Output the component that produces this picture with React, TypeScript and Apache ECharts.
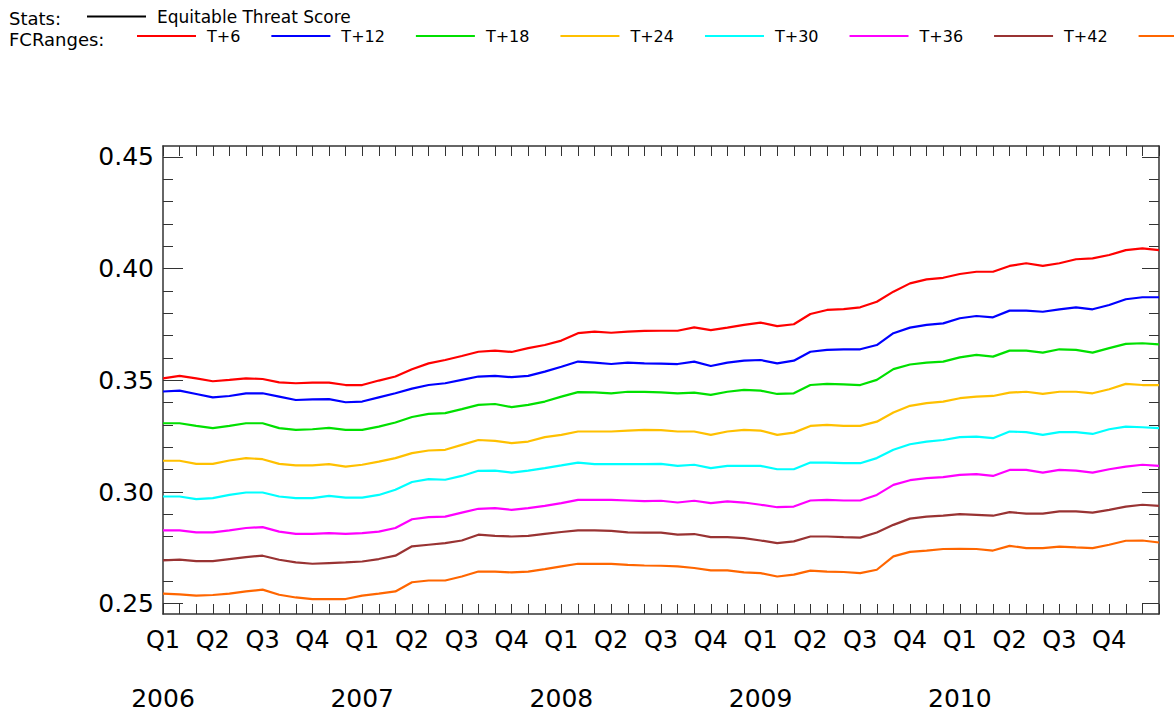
import React, { useEffect, useRef } from "react";
import * as echarts from "echarts";

// ---- categories (months, Jan 2006 .. Jan 2011) ----
const years = ["2006", "2007", "2008", "2009", "2010"];
const quarters = ["Q1", "Q2", "Q3", "Q4"];
const monthsInQuarter = ["m1", "m2", "m3"];
const endCategory = "2011|Q1|m1";

// ---- y axis ticks ----
const yMajorTicks = [0.25, 0.3, 0.35, 0.4, 0.45];
const yMinorTicks = [
  0.26, 0.27, 0.28, 0.29, 0.31, 0.32, 0.33, 0.34, 0.36, 0.37, 0.38, 0.39, 0.41,
  0.42, 0.43, 0.44,
];

// ---- legend ----
const statsName = "Equitable Threat Score";
const rangeNames = ["T+6", "T+12", "T+18", "T+24", "T+30", "T+36", "T+42", "T+48"];
const rangeColors = [
  "#ff0000",
  "#0000ff",
  "#00e000",
  "#ffc000",
  "#00ffff",
  "#ff00ff",
  "#993333",
  "#ff6600",
];

// ---- series values (monthly) ----
const t6 = [
  0.3509, 0.352, 0.3509, 0.3496, 0.3502, 0.3509, 0.3506, 0.3491, 0.3487, 0.349, 0.349, 0.3479,
  0.3479, 0.3499, 0.3517, 0.355, 0.3576, 0.3591, 0.3609, 0.3628, 0.3633, 0.3627, 0.3644, 0.3658,
  0.3678, 0.3711, 0.3718, 0.3713, 0.3718, 0.3721, 0.3722, 0.3722, 0.3737, 0.3725, 0.3736, 0.3748,
  0.3758, 0.3743, 0.3751, 0.3797, 0.3815, 0.3819, 0.3827, 0.3852, 0.3897, 0.3934, 0.3952, 0.3959,
  0.3976, 0.3986, 0.3986, 0.4012, 0.4024, 0.4012, 0.4024, 0.4042, 0.4046, 0.4061, 0.4083, 0.4091,
  0.4083,
];
const t12 = [
  0.345, 0.3454, 0.3439, 0.3424, 0.343, 0.3442, 0.3442, 0.3427, 0.3412, 0.3415, 0.3416, 0.3402,
  0.3405, 0.3424, 0.3442, 0.3463, 0.3479, 0.3487, 0.3502, 0.3517, 0.352, 0.3514, 0.352, 0.3539,
  0.3561, 0.3584, 0.3579, 0.3573, 0.3579, 0.3576, 0.3575, 0.3573, 0.3584, 0.3564, 0.3579, 0.3588,
  0.3591, 0.3576, 0.3588, 0.3628, 0.3636, 0.3639, 0.3639, 0.3658, 0.3711, 0.3736, 0.3748, 0.3755,
  0.3778, 0.3788, 0.3782, 0.3812, 0.3812, 0.3807, 0.3818, 0.3827, 0.3818, 0.3837, 0.3863, 0.3872,
  0.3872,
];
const t18 = [
  0.3308, 0.3308, 0.3296, 0.3286, 0.3296, 0.3308, 0.3308, 0.3286, 0.3278, 0.3281, 0.3287, 0.3278,
  0.3278, 0.3293, 0.3311, 0.3336, 0.335, 0.3353, 0.3371, 0.339, 0.3394, 0.338, 0.339, 0.3405,
  0.3427, 0.3447, 0.3446, 0.3442, 0.3449, 0.3448, 0.3446, 0.3442, 0.3445, 0.3435, 0.3449, 0.3457,
  0.3454, 0.3439, 0.3442, 0.3479, 0.3484, 0.3482, 0.3479, 0.3502, 0.355, 0.3571, 0.3579, 0.3584,
  0.3603, 0.3614, 0.3606, 0.3633, 0.3633, 0.3624, 0.3639, 0.3636, 0.3624, 0.3644, 0.3663, 0.3666,
  0.3661,
];
const t24 = [
  0.314, 0.314, 0.3126, 0.3126, 0.3141, 0.3152, 0.3147, 0.3126, 0.3119, 0.3119, 0.3125, 0.3114,
  0.3122, 0.3136, 0.3152, 0.3174, 0.3186, 0.3189, 0.3211, 0.3233, 0.3229, 0.3219, 0.3226, 0.3246,
  0.3256, 0.3271, 0.3271, 0.3271, 0.3275, 0.3278, 0.3277, 0.3271, 0.3271, 0.3256, 0.3271, 0.3278,
  0.3275, 0.3256, 0.3266, 0.3296, 0.3301, 0.3296, 0.3296, 0.3315, 0.3356, 0.3386, 0.3398, 0.3405,
  0.342, 0.3427, 0.343, 0.3445, 0.3449, 0.3439, 0.3449, 0.3449, 0.3442, 0.346, 0.3484, 0.3479,
  0.3479,
];
const t30 = [
  0.298, 0.298, 0.2968, 0.2973, 0.2987, 0.2998, 0.2998, 0.298, 0.2973, 0.2973, 0.2983, 0.2975,
  0.2975, 0.2987, 0.301, 0.3045, 0.3058, 0.3055, 0.3072, 0.3095, 0.3096, 0.3087, 0.3096, 0.3107,
  0.3119, 0.3132, 0.3125, 0.3125, 0.3125, 0.3125, 0.3126, 0.3117, 0.3122, 0.3107, 0.3117, 0.3117,
  0.3117, 0.3102, 0.3102, 0.3132, 0.3132, 0.3129, 0.3129, 0.3152, 0.3189, 0.3214, 0.3226, 0.3233,
  0.3246, 0.3248, 0.3241, 0.3271, 0.3268, 0.3256, 0.3268, 0.3268, 0.326, 0.3281, 0.3293, 0.329,
  0.3286,
];
const t36 = [
  0.2828, 0.2828, 0.2819, 0.2819, 0.2828, 0.2839, 0.2843, 0.2823, 0.2813, 0.2813, 0.2816, 0.2813,
  0.2816, 0.2823, 0.2839, 0.2878, 0.2888, 0.289, 0.2908, 0.2925, 0.2928, 0.292, 0.2928, 0.2938,
  0.295, 0.2965, 0.2965, 0.2965, 0.2962, 0.2959, 0.2961, 0.2953, 0.2961, 0.295, 0.2958, 0.2953,
  0.2943, 0.2932, 0.2935, 0.2962, 0.2965, 0.2962, 0.2962, 0.2987, 0.3032, 0.3053, 0.3062, 0.3067,
  0.3077, 0.308, 0.3072, 0.3099, 0.3099, 0.3087, 0.3099, 0.3096, 0.3087, 0.3102, 0.3114, 0.3122,
  0.3117,
];
const t42 = [
  0.2694, 0.2697, 0.2691, 0.2691, 0.27, 0.2709, 0.2715, 0.2697, 0.2685, 0.2679, 0.2682, 0.2685,
  0.2689, 0.27, 0.2715, 0.2757, 0.2764, 0.2771, 0.2783, 0.2809, 0.2804, 0.2801, 0.2804, 0.2813,
  0.2821, 0.2828, 0.2828, 0.2826, 0.2819, 0.2818, 0.2818, 0.2809, 0.2812, 0.2798, 0.2798, 0.2794,
  0.2783, 0.2771, 0.2779, 0.2801, 0.2801, 0.2798, 0.2796, 0.2819, 0.2853, 0.2881, 0.289, 0.2894,
  0.2901, 0.2898, 0.2894, 0.291, 0.2903, 0.2903, 0.2913, 0.2913, 0.2908, 0.292, 0.2935, 0.2943,
  0.2938,
];
const t48 = [
  0.2545, 0.2542, 0.2536, 0.2539, 0.2545, 0.2555, 0.2563, 0.254, 0.2528, 0.2521, 0.2521, 0.2521,
  0.2536, 0.2545, 0.2555, 0.2596, 0.2604, 0.2604, 0.2622, 0.2644, 0.2644, 0.264, 0.2644, 0.2655,
  0.2667, 0.2679, 0.2678, 0.2678, 0.2674, 0.2671, 0.267, 0.2667, 0.266, 0.2649, 0.2649, 0.264,
  0.2637, 0.2622, 0.263, 0.2648, 0.2644, 0.2642, 0.2637, 0.2652, 0.2712, 0.2732, 0.2738, 0.2745,
  0.2746, 0.2745, 0.2738, 0.2759, 0.2749, 0.2749, 0.2756, 0.2752, 0.2749, 0.2764, 0.2782, 0.2783,
  0.2774,
];
const rangeValues = [t6, t12, t18, t24, t30, t36, t42, t48];

const categories: string[] = [];
years.forEach((y) =>
  quarters.forEach((q) => monthsInQuarter.forEach((m) => categories.push(`${y}|${q}|${m}`)))
);
categories.push(endCategory);

const AXIS_COLOR = "#333";
const LABEL_FONT = "'DejaVu Sans', sans-serif";
const LEGEND_FONT = "'DejaVu Sans', sans-serif";

export default function App() {
  const ref = useRef<HTMLDivElement>(null);

  useEffect(() => {
    document.body.style.margin = "0";
    if (!ref.current) return;
    const chart = echarts.init(ref.current, null, { renderer: "svg" });

    const quarterLabel = (val: string, idx: number) => {
      const [, q, m] = val.split("|");
      if (idx >= categories.length - 1) return "";
      return m === "m1" ? q : "";
    };
    const yearLabel = (val: string, idx: number) => {
      const [y, q, m] = val.split("|");
      if (idx >= categories.length - 1) return "";
      return q === "Q1" && m === "m1" ? y : "";
    };

    const yMin = 0.2454;
    const yMax = 0.4549;

    const yAxisBase = {
      type: "value" as const,
      min: yMin,
      max: yMax,
      splitLine: { show: false },
    };

    const option: any = {
      animation: false,
      backgroundColor: "#ffffff",
      grid: {
        left: 163,
        right: 15,
        top: 146,
        bottom: 100,
        containLabel: false,
        outerBoundsMode: "none",
      },
      graphic: [
        {
          type: "text",
          left: 9,
          top: 9,
          style: {
            text: "Stats:",
            font: `18px ${LEGEND_FONT}`,
            fill: "#000",
          },
        },
        {
          type: "text",
          left: 9,
          top: 30,
          style: {
            text: "FCRanges:",
            font: `18px ${LEGEND_FONT}`,
            fill: "#000",
          },
        },
      ],
      legend: [
        {
          data: [statsName],
          left: 87,
          top: 8,
          padding: 0,
          icon: "rect",
          itemWidth: 59,
          itemHeight: 2,
          textStyle: {
            fontFamily: LEGEND_FONT,
            fontSize: 17,
            color: "#000",
            padding: [0, 0, 8, 6],
          },
        },
        {
          data: rangeNames,
          left: 137,
          top: 28,
          width: 3000,
          padding: 0,
          icon: "rect",
          itemWidth: 59,
          itemHeight: 2,
          itemGap: 31,
          textStyle: {
            fontFamily: LEGEND_FONT,
            fontSize: 16,
            color: "#000",
            padding: [0, 0, 8, 6],
          },
        },
      ],
      xAxis: [
        {
          type: "category",
          data: categories,
          boundaryGap: false,
          position: "bottom",
          axisLine: { show: true, lineStyle: { color: AXIS_COLOR, width: 1.5 } },
          axisTick: {
            show: true,
            inside: true,
            length: 10,
            interval: 0,
            lineStyle: { color: AXIS_COLOR, width: 1 },
          },
          axisLabel: {
            interval: 0,
            formatter: quarterLabel,
            margin: 14,
            fontFamily: LABEL_FONT,
            fontSize: 24,
            color: "#000",
          },
          splitLine: { show: false },
        },
        {
          type: "category",
          data: categories,
          boundaryGap: false,
          position: "bottom",
          axisLine: { show: false },
          axisTick: { show: false },
          axisLabel: {
            interval: 0,
            formatter: yearLabel,
            margin: 72,
            fontFamily: LABEL_FONT,
            fontSize: 25,
            color: "#000",
          },
          splitLine: { show: false },
        },
        {
          type: "category",
          data: categories,
          boundaryGap: false,
          position: "top",
          axisLine: { show: true, lineStyle: { color: AXIS_COLOR, width: 1.5 } },
          axisTick: {
            show: true,
            inside: true,
            length: 10,
            interval: 0,
            lineStyle: { color: AXIS_COLOR, width: 1 },
          },
          axisLabel: { show: false },
          splitLine: { show: false },
        },
      ],
      yAxis: [
        {
          ...yAxisBase,
          position: "left",
          axisLine: { show: true, lineStyle: { color: AXIS_COLOR, width: 1.5 } },
          axisTick: {
            show: true,
            inside: true,
            length: 20,
            customValues: yMajorTicks,
            lineStyle: { color: AXIS_COLOR, width: 1 },
          },
          axisLabel: {
            show: true,
            customValues: yMajorTicks,
            formatter: (v: number) => v.toFixed(2),
            margin: 9,
            fontFamily: LABEL_FONT,
            fontSize: 25,
            color: "#000",
          },
        },
        {
          ...yAxisBase,
          position: "left",
          axisLine: { show: false },
          axisTick: {
            show: true,
            inside: true,
            length: 10,
            customValues: yMinorTicks,
            lineStyle: { color: AXIS_COLOR, width: 1 },
          },
          axisLabel: { show: false },
        },
        {
          ...yAxisBase,
          position: "right",
          axisLine: { show: true, lineStyle: { color: AXIS_COLOR, width: 1.5 } },
          axisTick: {
            show: true,
            inside: true,
            length: 17,
            customValues: yMajorTicks,
            lineStyle: { color: AXIS_COLOR, width: 1 },
          },
          axisLabel: { show: false },
        },
        {
          ...yAxisBase,
          position: "right",
          axisLine: { show: false },
          axisTick: {
            show: true,
            inside: true,
            length: 10,
            customValues: yMinorTicks,
            lineStyle: { color: AXIS_COLOR, width: 1 },
          },
          axisLabel: { show: false },
        },
      ],
      series: [
        {
          name: statsName,
          type: "line",
          data: [],
          symbol: "none",
          itemStyle: { color: "#000" },
          lineStyle: { color: "#000", width: 2 },
        },
        ...rangeNames.map((name, i) => ({
          name,
          type: "line",
          xAxisIndex: 0,
          yAxisIndex: 0,
          data: rangeValues[i],
          symbol: "none",
          showSymbol: false,
          itemStyle: { color: rangeColors[i] },
          lineStyle: { color: rangeColors[i], width: 2.2 },
          emphasis: { disabled: true },
        })),
      ],
    };

    chart.setOption(option);
    return () => chart.dispose();
  }, []);

  return <div ref={ref} style={{ width: 1174, height: 714 }} />;
}
